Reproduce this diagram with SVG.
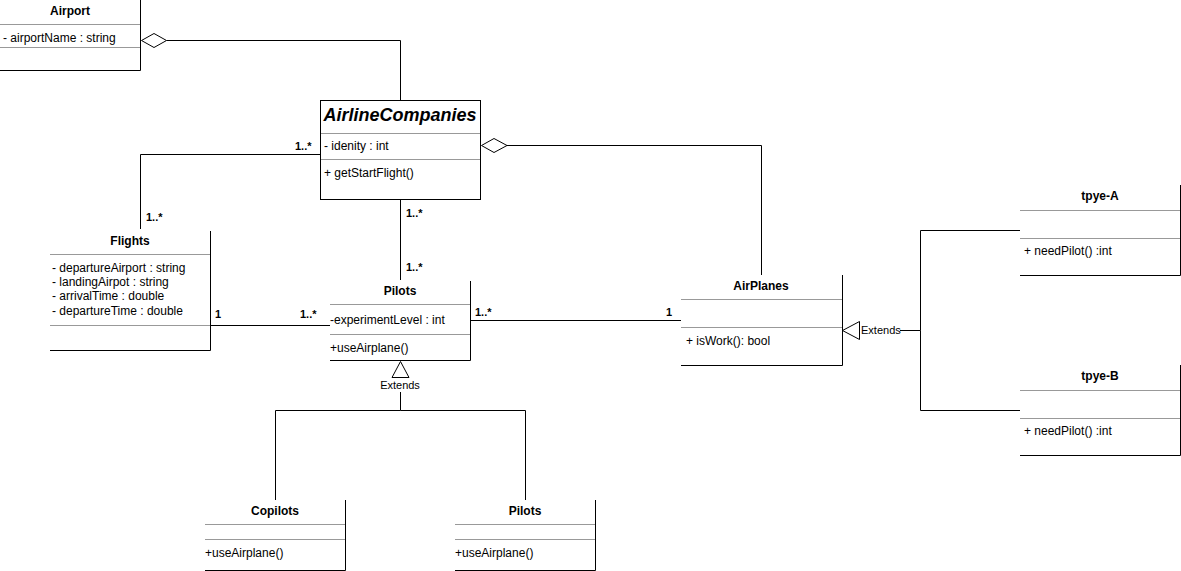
<svg xmlns="http://www.w3.org/2000/svg" width="1181" height="571" viewBox="0 0 1181 571">
<style>
.bd{stroke:#000;stroke-width:1;fill:none}
.sep{stroke:#999;stroke-width:1;fill:none}
.ln{stroke:#000;stroke-width:1;fill:none}
text{font-family:"Liberation Sans",Arial,sans-serif;font-size:12px;fill:#000}
.t{font-weight:bold;font-size:12px;text-anchor:middle}
.ti{font-weight:bold;font-style:italic;font-size:18px;text-anchor:middle}
.m{font-weight:bold;font-size:11px}
.e{font-size:11px}
.c{text-anchor:middle}
</style>
<rect width="1181" height="571" fill="#fff"/>
<g id="connectors">
<path class="ln" d="M166.5 40.5H400.5V100"/>
<polygon points="141.5,40.5 154,33.5 166.5,40.5 154,47.5" fill="#fff" stroke="#000"/>
<path class="ln" d="M507 145.5H761.5V275"/>
<polygon points="481.5,145.5 494,138.5 507,145.5 494,152.5" fill="#fff" stroke="#000"/>
<path class="ln" d="M320 154.5H140.5V229"/>
<path class="ln" d="M400.5 200V280"/>
<path class="ln" d="M210 325.5H330"/>
<path class="ln" d="M471 320.5H681"/>
<polygon points="842.5,330.5 859.5,321.5 859.5,339.5" fill="#fff" stroke="#000"/>
<path class="ln" d="M900 330.5H920.5V230.5H1020M920.5 330.5V410.5H1020"/>
<polygon points="400.5,361.5 392,377.5 409,377.5" fill="#fff" stroke="#000"/>
<path class="ln" d="M400.5 392V410.5H275.5V500M400.5 410.5H525.5V500"/>
<text x="295" y="150" class="m">1..*</text>
<text x="146" y="221" class="m">1..*</text>
<text x="406" y="217" class="m">1..*</text>
<text x="406" y="271" class="m">1..*</text>
<text x="215" y="318" class="m">1</text>
<text x="300" y="318" class="m">1..*</text>
<text x="475" y="316" class="m">1..*</text>
<text x="666" y="316" class="m">1</text>
<text x="861" y="334" class="e">Extends</text>
<text x="400" y="389" class="c e">Extends</text>
</g>
<g id="Airport">
<path class="bd" d="M140.5 0V70.5H0"/>
<path class="sep" d="M0 24.5H140M0 47.5H140"/>
<text x="70" y="15" class="t">Airport</text>
<text x="3" y="42">- airportName : string</text>
</g>
<g id="AirlineCompanies">
<rect class="bd" x="320.5" y="100.5" width="160" height="99"/>
<path class="sep" d="M321 133.5H480M321 159.5H480"/>
<text x="400" y="121" class="ti">AirlineCompanies</text>
<text x="324" y="150">- idenity : int</text>
<text x="324" y="177">+ getStartFlight()</text>
</g>
<g id="Flights">
<path class="bd" d="M210.5 231V350.5H50"/>
<path class="sep" d="M50 254.5H210M50 325.5H210"/>
<text x="130" y="245" class="t">Flights</text>
<text x="52" y="272">- departureAirport : string</text>
<text x="52" y="286">- landingAirpot : string</text>
<text x="52" y="300">- arrivalTime : double</text>
<text x="52" y="315">- departureTime : double</text>
</g>
<g id="Pilots">
<path class="bd" d="M470.5 281V360.5H330"/>
<path class="sep" d="M330 304.5H470M330 334.5H470"/>
<text x="400" y="295" class="t">Pilots</text>
<text x="330" y="324">-experimentLevel : int</text>
<text x="330" y="352">+useAirplane()</text>
</g>
<g id="AirPlanes">
<path class="bd" d="M842.5 275V365.5H681"/>
<path class="sep" d="M681 299.5H842M681 327.5H842"/>
<text x="761" y="290" class="t">AirPlanes</text>
<text x="686" y="345">+ isWork(): bool</text>
</g>
<g id="tpye-A">
<path class="bd" d="M1180.5 185V275.5H1020"/>
<path class="sep" d="M1020 210.5H1180M1020 238.5H1180"/>
<text x="1100" y="200" class="t">tpye-A</text>
<text x="1024" y="255">+ needPilot() :int</text>
</g>
<g id="tpye-B">
<path class="bd" d="M1180.5 365V455.5H1020"/>
<path class="sep" d="M1020 390.5H1180M1020 418.5H1180"/>
<text x="1100" y="380" class="t">tpye-B</text>
<text x="1024" y="435">+ needPilot() :int</text>
</g>
<g id="Copilots">
<path class="bd" d="M345.5 500V570.5H205"/>
<path class="sep" d="M205 524.5H345M205 539.5H345"/>
<text x="275" y="515" class="t">Copilots</text>
<text x="205" y="557">+useAirplane()</text>
</g>
<g id="Pilots2">
<path class="bd" d="M595.5 500V570.5H455"/>
<path class="sep" d="M455 524.5H595M455 539.5H595"/>
<text x="525" y="515" class="t">Pilots</text>
<text x="455" y="557">+useAirplane()</text>
</g>
</svg>
